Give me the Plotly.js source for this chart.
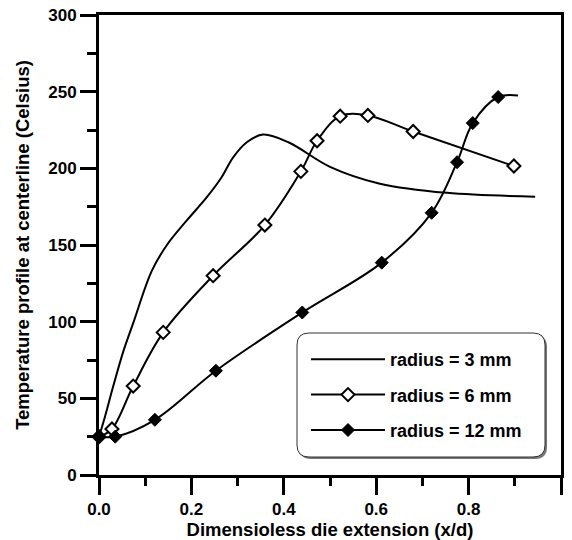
<!DOCTYPE html>
<html>
<head>
<meta charset="utf-8">
<script src="https://cdn.plot.ly/plotly-3.0.1.min.js"></script>
<style>
  html, body { margin: 0; padding: 0; background: #fff; }
  #chart { width: 572px; height: 540px; }
</style>
</head>
<body>
<div id="chart"></div>
<script>
// ---- data ----
const seriesNames = ["radius = 3 mm", "radius = 6 mm", "radius = 12 mm"];

const x3mm = [0.0, 0.012, 0.030, 0.052, 0.074, 0.114, 0.147, 0.190, 0.233, 0.265, 0.290, 0.320, 0.355, 0.410, 0.500, 0.608, 0.753, 0.944];
const y3mm = [25, 37, 57, 80, 99, 133, 150, 166, 181, 194, 207, 217, 222, 217, 201, 190, 184, 181.5];

const x6mm = [0.0, 0.028, 0.074, 0.139, 0.247, 0.359, 0.437, 0.472, 0.522, 0.582, 0.680, 0.898];
const y6mm = [25, 30, 58, 93, 130, 163, 198, 218, 234, 234.5, 224, 201.5];

const x12mm = [0.0, 0.035, 0.121, 0.253, 0.440, 0.612, 0.720, 0.775, 0.809, 0.864, 0.907];
const y12mm = [25, 25, 36, 68, 106, 138.5, 171, 204, 229.5, 246.5, 247.5];
// the last point of the 12 mm curve carries no visible marker
const color12mm = x12mm.map((v, i) => (i === x12mm.length - 1 ? "rgba(0,0,0,0)" : "#000"));

const xTickVals = [0, 0.2, 0.4, 0.6, 0.8, 1.0];
const xTickText = ["0.0", "0.2", "0.4", "0.6", "0.8", "1.0"];
const yTickVals = [0, 50, 100, 150, 200, 250, 300];
const yTickText = ["0", "50", "100", "150", "200", "250", "300"];

const FONT = "Liberation Sans, Arial, sans-serif";

const traces = [
  {
    x: x3mm, y: y3mm, name: seriesNames[0], type: "scatter", mode: "lines",
    line: { color: "#000", width: 2, shape: "spline", smoothing: 1 },
    legendgroup: "a", cliponaxis: false
  },
  {
    x: x6mm, y: y6mm, name: seriesNames[1], type: "scatter", mode: "lines+markers",
    line: { color: "#000", width: 2, shape: "spline", smoothing: 1 },
    marker: { symbol: "diamond", size: 10, color: "#fff", opacity: 1, line: { color: "#000", width: 2 } },
    legendgroup: "b", cliponaxis: false
  },
  {
    x: x12mm, y: y12mm, name: seriesNames[2], type: "scatter", mode: "lines+markers",
    line: { color: "#000", width: 2, shape: "spline", smoothing: 1 },
    marker: { symbol: "diamond", size: 10, color: color12mm, opacity: 1, line: { color: color12mm, width: 1 } },
    legendgroup: "c", cliponaxis: false
  }
];

// rounded legend frame in paper coordinates
const L = 99, T = 15, W = 462, H = 460;
function px2x(p) { return (p - L) / W; }
function px2y(p) { return (T + H - p) / H; }
function roundRect(x0, y0, x1, y1, r) {
  const X = px2x, Y = px2y;
  return "M" + X(x0 + r) + "," + Y(y0) +
    " L" + X(x1 - r) + "," + Y(y0) +
    " Q" + X(x1) + "," + Y(y0) + " " + X(x1) + "," + Y(y0 + r) +
    " L" + X(x1) + "," + Y(y1 - r) +
    " Q" + X(x1) + "," + Y(y1) + " " + X(x1 - r) + "," + Y(y1) +
    " L" + X(x0 + r) + "," + Y(y1) +
    " Q" + X(x0) + "," + Y(y1) + " " + X(x0) + "," + Y(y1 - r) +
    " L" + X(x0) + "," + Y(y0 + r) +
    " Q" + X(x0) + "," + Y(y0) + " " + X(x0 + r) + "," + Y(y0) + " Z";
}

const layout = {
  width: 572, height: 540,
  margin: { l: 99, r: 11, t: 15, b: 65 },
  paper_bgcolor: "#fff", plot_bgcolor: "#fff",
  font: { family: FONT, color: "#000", size: 17 },
  showlegend: true,
  legend: {
    x: px2x(306), y: px2y(341), xanchor: "left", yanchor: "top",
    bgcolor: "rgba(0,0,0,0)", borderwidth: 0,
    font: { family: FONT, size: 18, color: "#000", weight: "bold" },
    itemwidth: 74, itemsizing: "trace", tracegroupgap: 9, traceorder: "grouped"
  },
  xaxis: {
    range: [0, 1], autorange: false,
    showgrid: false, zeroline: false,
    showline: true, linecolor: "#000", linewidth: 3, mirror: true,
    ticks: "outside", ticklen: 17, tickwidth: 3, tickcolor: "#000",
    tickvals: xTickVals, ticktext: xTickText,
    tickfont: { family: FONT, size: 17, weight: "bold" },
    minor: { dtick: 0.1, tick0: 0, ticks: "outside", ticklen: 8, tickwidth: 3, tickcolor: "#000", showgrid: false },
    title: { text: "Dimensioless die extension (x/d)", font: { family: FONT, size: 18.5, weight: "bold" }, standoff: 1 }
  },
  yaxis: {
    range: [0, 300], autorange: false,
    showgrid: false, zeroline: false,
    showline: true, linecolor: "#000", linewidth: 3, mirror: true,
    ticks: "outside", ticklen: 16, tickwidth: 3, tickcolor: "#000",
    tickvals: yTickVals, ticktext: yTickText,
    tickfont: { family: FONT, size: 17, weight: "bold" },
    minor: { dtick: 25, tick0: 0, ticks: "outside", ticklen: 9, tickwidth: 3, tickcolor: "#000", showgrid: false },
    title: { text: "Temperature profile at centerline (Celsius)", font: { family: FONT, size: 18.5, weight: "bold" }, standoff: 14 }
  },
  shapes: [
    { type: "path", xref: "paper", yref: "paper", layer: "above",
      path: roundRect(299, 335, 547, 459, 12),
      fillcolor: "#777", line: { width: 0 } },
    { type: "path", xref: "paper", yref: "paper", layer: "above",
      path: roundRect(297, 333, 545, 457, 12),
      fillcolor: "#fff", line: { color: "#333", width: 1 } }
  ]
};

Plotly.newPlot("chart", traces, layout, { displayModeBar: false, staticPlot: true });
</script>
</body>
</html>
